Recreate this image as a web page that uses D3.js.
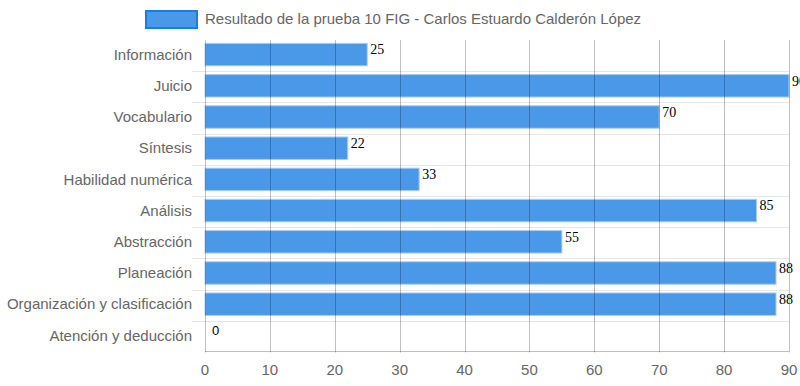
<!DOCTYPE html>
<html>
<head>
<meta charset="utf-8">
<script src="https://cdn.jsdelivr.net/npm/d3@7"></script>
<style>
  body { margin: 0; background: #fff; }
  svg text { font-family: "Liberation Sans", Arial, sans-serif; }
</style>
</head>
<body>
<div id="chart"></div>
<script>
// data
var categories = ["Información", "Juicio", "Vocabulario", "Síntesis", "Habilidad numérica",
    "Análisis", "Abstracción", "Planeación", "Organización y clasificación", "Atención y deducción"];
var values = [25, 90, 70, 22, 33, 85, 55, 88, 88, 0];
var xTicks = [0, 10, 20, 30, 40, 50, 60, 70, 80, 90];
var seriesName = "Resultado de la prueba 10 FIG - Carlos Estuardo Calderón López";

var width = 800, height = 386;
var margin = {top: 40.5, right: 11, bottom: 33.5, left: 205};

var svg = d3.select("#chart").append("svg")
    .attr("width", width)
    .attr("height", height);

var x = d3.scaleLinear().domain([0, 90]).range([margin.left, width - margin.right]);
var y = d3.scaleBand().domain(categories).range([margin.top, height - margin.bottom]);
var mid = function(c) { return y(c) + y.bandwidth() / 2 - 1.5; };

//horizontal grid lines (between categories)
var bounds = categories.map(function(c) { return y(c); }).concat([y.range()[1]]);
svg.selectAll("line.hgrid")
    .data(bounds.slice(1, -1))
    .enter().append("line")
    .attr("class", "hgrid")
    .attr("x1", margin.left - 13).attr("x2", x(90))
    .attr("y1", function(d) { return Math.floor(d) + 0.5; })
    .attr("y2", function(d) { return Math.floor(d) + 0.5; })
    .attr("stroke", "#e6e6e6");

//bars
var bh = y.bandwidth() * 0.72;
svg.selectAll("rect.bar")
    .data(values)
    .enter().append("rect")
    .attr("class", "bar")
    .attr("x", x(0))
    .attr("y", function(d, i) { return mid(categories[i]) - bh / 2; })
    .attr("width", function(d) { return x(d) - x(0); })
    .attr("height", bh)
    .attr("fill", "#4a98e8")
    .attr("stroke", function(d) { return d > 0 ? "#a9cdf4" : "none"; })
    .attr("stroke-width", 1);

//vertical grid lines drawn over bars
svg.selectAll("line.vgrid")
    .data(xTicks)
    .enter().append("line")
    .attr("class", "vgrid")
    .attr("x1", function(d) { return Math.round(x(d)) + 0.5; })
    .attr("x2", function(d) { return Math.round(x(d)) + 0.5; })
    .attr("y1", 40).attr("y2", height - margin.bottom)
    .attr("stroke", "rgba(0,0,0,0.25)");

//bottom axis line
svg.append("line")
    .attr("x1", x(0)).attr("x2", x(90))
    .attr("y1", 351.5).attr("y2", 351.5)
    .attr("stroke", "rgba(0,0,0,0.25)");

//x tick labels
svg.selectAll("text.xt")
    .data(xTicks)
    .enter().append("text")
    .attr("x", function(d) { return x(d); })
    .attr("y", 375)
    .attr("text-anchor", "middle")
    .attr("font-size", 15)
    .attr("fill", "#666")
    .text(function(d) { return d; });

//y labels
svg.selectAll("text.yl")
    .data(categories)
    .enter().append("text")
    .attr("x", margin.left - 13)
    .attr("y", function(d) { return mid(d); })
    .attr("dy", "0.35em")
    .attr("text-anchor", "end")
    .attr("font-size", 15)
    .attr("fill", "#666")
    .text(function(d) { return d; });

//value labels
svg.selectAll("text.val")
    .data(values)
    .enter().append("text")
    .attr("x", function(d) { return d > 0 ? x(d) + 3 : x(d) + 7; })
    .attr("y", function(d, i) { return mid(categories[i]) - bh / 2 + 11; })
    .attr("font-size", function(d) { return d > 0 ? 14 : 13; })
    .attr("fill", "#000")
    .style("font-family", function(d) { return d > 0 ? "'Liberation Serif', serif" : "'Liberation Sans', sans-serif"; })
    .text(function(d) { return d; });

//legend
svg.append("rect")
    .attr("x", 146).attr("y", 11)
    .attr("width", 51).attr("height", 17)
    .attr("fill", "#4a98e8")
    .attr("stroke", "#1e7ce0")
    .attr("stroke-width", 2);
svg.append("text")
    .attr("x", 205).attr("y", 19)
    .attr("dy", "0.35em")
    .attr("font-size", 15)
    .attr("fill", "#666")
    .text(seriesName);
</script>
</body>
</html>
